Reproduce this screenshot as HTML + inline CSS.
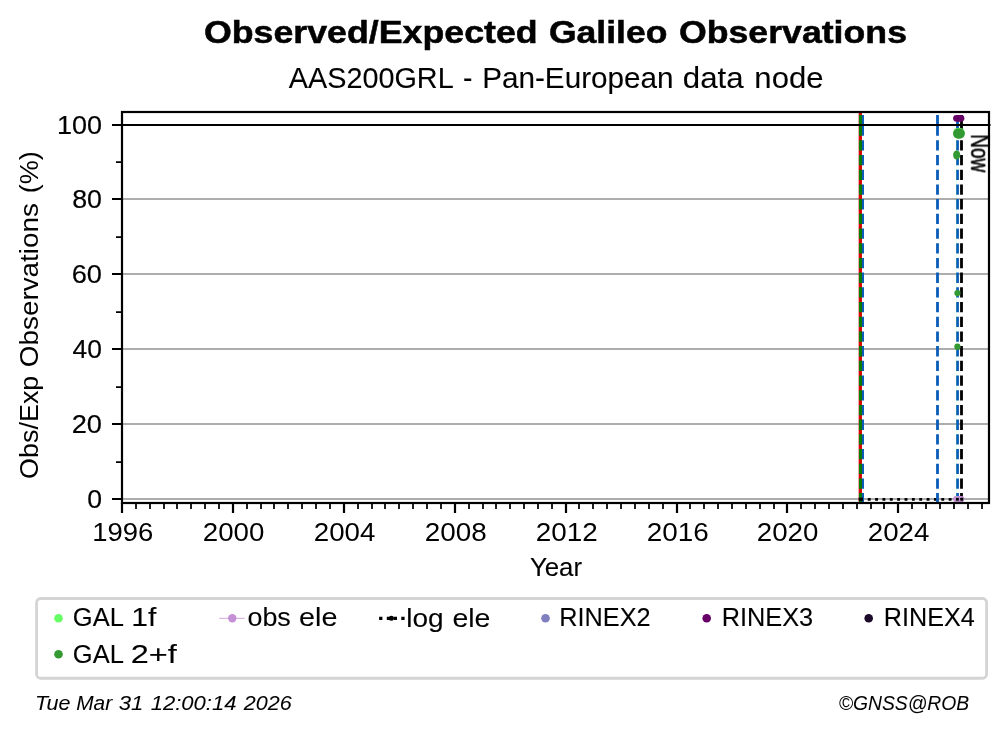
<!DOCTYPE html>
<html lang="en"><head><meta charset="utf-8"><title>Observed/Expected Galileo Observations</title>
<style>html,body{margin:0;padding:0;background:#fff;overflow:hidden}svg{display:block;font-family:"Liberation Sans", sans-serif}text{white-space:pre;vector-effect:non-scaling-stroke}</style></head><body>
<svg width="1008" height="734" viewBox="0 0 1008 734">
<rect width="1008" height="734" fill="#fff"/>
<g stroke="#adadad" stroke-width="2.2" fill="none">
<line x1="122" x2="989" y1="499" y2="499"/>
<line x1="122" x2="989" y1="424" y2="424"/>
<line x1="122" x2="989" y1="349" y2="349"/>
<line x1="122" x2="989" y1="274" y2="274"/>
<line x1="122" x2="989" y1="199" y2="199"/>
<line x1="122" x2="989" y1="125" y2="125"/>
</g>
<path d="M867.75 499.3H870.65 M875.11 499.3H878.01 M882.46 499.3H885.36 M889.82 499.3H892.72 M897.17 499.3H900.07 M904.53 499.3H907.43 M911.88 499.3H914.78 M919.24 499.3H922.14 M926.59 499.3H929.49 M933.95 499.3H936.85 M941.3 499.3H944.2 M948.66 499.3H951.56" stroke="#000" stroke-width="2.7" fill="none"/>
<path d="M862.6 115V135.7 M862.6 140.3V150.6 M862.6 155V165.3 M862.6 169.7V180 M862.6 184.4V194.7 M862.6 199.1V209.4 M862.6 213.8V224.1 M862.6 228.5V238.8 M862.6 243.2V253.5 M862.6 257.9V268.2 M862.6 272.6V282.9 M862.6 287.3V297.6 M862.6 302V312.3 M862.6 316.7V327 M862.6 331.4V341.7 M862.6 346.1V356.4 M862.6 360.8V371.1 M862.6 375.5V385.8 M862.6 390.2V400.5 M862.6 404.9V415.2 M862.6 419.6V429.9 M862.6 434.3V444.6 M862.6 449V459.3 M862.6 463.7V474 M862.6 478.4V488.7 M862.6 493.1V502" stroke="#095cb8" stroke-width="2.8" fill="none"/>
<line x1="860.3" x2="860.3" y1="113" y2="502" stroke="#d80000" stroke-width="3.3"/>
<path d="M860.45 115V135.7 M860.45 140.3V150.6 M860.45 155V165.3 M860.45 169.7V180 M860.45 184.4V194.7 M860.45 199.1V209.4 M860.45 213.8V224.1 M860.45 228.5V238.8 M860.45 243.2V253.5 M860.45 257.9V268.2 M860.45 272.6V282.9 M860.45 287.3V297.6 M860.45 302V312.3 M860.45 316.7V327 M860.45 331.4V341.7 M860.45 346.1V356.4 M860.45 360.8V371.1 M860.45 375.5V385.8 M860.45 390.2V400.5 M860.45 404.9V415.2 M860.45 419.6V429.9 M860.45 434.3V444.6 M860.45 449V459.3 M860.45 463.7V474 M860.45 478.4V488.7 M860.45 493.1V502" stroke="#008000" stroke-width="2.9" fill="none"/>
<path d="M937.5 115V135.7 M937.5 140.3V150.6 M937.5 155V165.3 M937.5 169.7V180 M937.5 184.4V194.7 M937.5 199.1V209.4 M937.5 213.8V224.1 M937.5 228.5V238.8 M937.5 243.2V253.5 M937.5 257.9V268.2 M937.5 272.6V282.9 M937.5 287.3V297.6 M937.5 302V312.3 M937.5 316.7V327 M937.5 331.4V341.7 M937.5 346.1V356.4 M937.5 360.8V371.1 M937.5 375.5V385.8 M937.5 390.2V400.5 M937.5 404.9V415.2 M937.5 419.6V429.9 M937.5 434.3V444.6 M937.5 449V459.3 M937.5 463.7V474 M937.5 478.4V488.7 M937.5 493.1V502" stroke="#095cb8" stroke-width="2.8" fill="none"/>
<path d="M957.5 115V135.7 M957.5 140.3V150.6 M957.5 155V165.3 M957.5 169.7V180 M957.5 184.4V194.7 M957.5 199.1V209.4 M957.5 213.8V224.1 M957.5 228.5V238.8 M957.5 243.2V253.5 M957.5 257.9V268.2 M957.5 272.6V282.9 M957.5 287.3V297.6 M957.5 302V312.3 M957.5 316.7V327 M957.5 331.4V341.7 M957.5 346.1V356.4 M957.5 360.8V371.1 M957.5 375.5V385.8 M957.5 390.2V400.5 M957.5 404.9V415.2 M957.5 419.6V429.9 M957.5 434.3V444.6 M957.5 449V459.3 M957.5 463.7V474 M957.5 478.4V488.7 M957.5 493.1V502" stroke="#095cb8" stroke-width="2.8" fill="none"/>
<path d="M961.5 115V135.7 M961.5 140.3V150.6 M961.5 155V165.3 M961.5 169.7V180 M961.5 184.4V194.7 M961.5 199.1V209.4 M961.5 213.8V224.1 M961.5 228.5V238.8 M961.5 243.2V253.5 M961.5 257.9V268.2 M961.5 272.6V282.9 M961.5 287.3V297.6 M961.5 302V312.3 M961.5 316.7V327 M961.5 331.4V341.7 M961.5 346.1V356.4 M961.5 360.8V371.1 M961.5 375.5V385.8 M961.5 390.2V400.5 M961.5 404.9V415.2 M961.5 419.6V429.9 M961.5 434.3V444.6 M961.5 449V459.3 M961.5 463.7V474 M961.5 478.4V488.7 M961.5 493.1V502" stroke="#000" stroke-width="2.8" fill="none"/>
<rect x="858.7" y="497.7" width="4.3" height="3.2" fill="#000"/>
<line x1="122" x2="990.5" y1="125" y2="125" stroke="#000" stroke-width="2.1"/>
<rect x="953.1" y="496.0" width="11.3" height="6.0" rx="3" fill="#c48fd4"/>
<rect x="956.0" y="497.95" width="2.8" height="2.7" fill="#000"/>
<rect x="960.2" y="497.8" width="3.1" height="3.0" rx="0.8" fill="#000"/>
<line x1="956.3" x2="956.3" y1="130" y2="498" stroke="#66ff66" stroke-width="0.6" opacity="0.3"/>
<rect x="953.3" y="127.9" width="11.4" height="9" rx="4.5" fill="#66ff66"/>
<g fill="#339a33">
<rect x="953.0" y="128.5" width="11.9" height="10.2" rx="5.1"/>
<ellipse cx="956.7" cy="155" rx="3.6" ry="4.6"/>
<circle cx="957.4" cy="293.1" r="3.1"/>
<circle cx="957.4" cy="346.7" r="3.1"/>
</g>
<rect x="953.1" y="114.9" width="11.3" height="6.9" rx="3.45" fill="#660066"/>
<g stroke="#000" fill="none">
<path d="M122 499H112 M122 424H112 M122 349H112 M122 274H112 M122 199H112 M122 125H112 M122 503V513 M233 503V513 M344 503V513 M455 503V513 M566 503V513 M677 503V513 M787 503V513 M898 503V513" stroke-width="2.2"/>
<path d="M122 462H116 M122 387H116 M122 312H116 M122 237H116 M122 162H116 M136 503V509 M150 503V509 M164 503V509 M177 503V509 M191 503V509 M205 503V509 M219 503V509 M247 503V509 M261 503V509 M274 503V509 M288 503V509 M302 503V509 M316 503V509 M330 503V509 M358 503V509 M372 503V509 M385 503V509 M399 503V509 M413 503V509 M427 503V509 M441 503V509 M469 503V509 M483 503V509 M496 503V509 M510 503V509 M524 503V509 M538 503V509 M552 503V509 M579 503V509 M593 503V509 M607 503V509 M621 503V509 M635 503V509 M649 503V509 M663 503V509 M690 503V509 M704 503V509 M718 503V509 M732 503V509 M746 503V509 M760 503V509 M774 503V509 M801 503V509 M815 503V509 M829 503V509 M843 503V509 M857 503V509 M871 503V509 M884 503V509 M912 503V509 M926 503V509 M940 503V509 M954 503V509 M968 503V509 M982 503V509" stroke-width="1.75"/>
<rect x="122" y="112" width="867" height="391" stroke-width="2.2"/>
</g>
<rect x="36.6" y="598.5" width="950" height="79.75" rx="4" fill="#fff" stroke="#d4d4d4" stroke-width="2.8"/>
<circle cx="58.5" cy="618.3" r="4.3" fill="#66ff66"/>
<circle cx="58.5" cy="654.2" r="4.3" fill="#339a33"/>
<line x1="219.2" x2="244.7" y1="618.3" y2="618.3" stroke="#c48fd4" stroke-width="0.8"/>
<circle cx="232.3" cy="618.3" r="4.2" fill="#c48fd4"/>
<path d="M379.1 618.3H382.4 M386.8 618.3H390.1 M393.7 618.3H397 M401.3 618.3H404.6" stroke="#000" stroke-width="3.2" fill="none"/>
<circle cx="391.4" cy="618.3" r="2.5" fill="#000"/>
<circle cx="545.5" cy="618.3" r="4.3" fill="#807fbf"/>
<circle cx="706.7" cy="618.3" r="4.3" fill="#660066"/>
<circle cx="868.7" cy="618.3" r="4.3" fill="#1d0a2b"/>
<g fill="#000" opacity="0.999">
<text transform="translate(203.88 42.8) scale(1.1175 1)" font-size="32" font-weight="bold" stroke="#000" stroke-width="0.55">Observed/Expected</text>
<text transform="translate(548.89 42.8) scale(1.1113 1)" font-size="32" font-weight="bold" stroke="#000" stroke-width="0.55">Galileo</text>
<text transform="translate(678.88 42.8) scale(1.1156 1)" font-size="32" font-weight="bold" stroke="#000" stroke-width="0.55">Observations</text>
<text transform="translate(288.8 87.6) scale(0.9831 1)" font-size="29.3" stroke="#000" stroke-width="0.1">AAS200GRL</text>
<text transform="translate(462.92 87.6) scale(0.9637 1)" font-size="29.3" stroke="#000" stroke-width="0.1">-</text>
<text transform="translate(482.18 87.6) scale(1.0134 1)" font-size="29.3" stroke="#000" stroke-width="0.1">Pan-European</text>
<text transform="translate(682.82 87.6) scale(1.0658 1)" font-size="29.3" stroke="#000" stroke-width="0.1">data</text>
<text transform="translate(754.36 87.6) scale(1.0617 1)" font-size="29.3" stroke="#000" stroke-width="0.1">node</text>
<text transform="translate(87.17 507.9) scale(1.0231 1)" font-size="26" stroke="#000" stroke-width="0.2">0</text>
<text transform="translate(71.73 432.9) scale(1.0461 1)" font-size="26" stroke="#000" stroke-width="0.2">20</text>
<text transform="translate(72.59 357.9) scale(1.0156 1)" font-size="26" stroke="#000" stroke-width="0.2">40</text>
<text transform="translate(71.73 282.9) scale(1.0461 1)" font-size="26" stroke="#000" stroke-width="0.2">60</text>
<text transform="translate(72.16 207.9) scale(1.0306 1)" font-size="26" stroke="#000" stroke-width="0.2">80</text>
<text transform="translate(56.91 133.9) scale(1.0387 1)" font-size="26" stroke="#000" stroke-width="0.2">100</text>
<text transform="translate(92.13 540.9) scale(1.0569 1)" font-size="26">1996</text>
<text transform="translate(202.8 540.9) scale(1.0648 1)" font-size="26">2000</text>
<text transform="translate(313.8 540.9) scale(1.0648 1)" font-size="26">2004</text>
<text transform="translate(424.79 540.9) scale(1.0726 1)" font-size="26">2008</text>
<text transform="translate(535.79 540.9) scale(1.0726 1)" font-size="26">2012</text>
<text transform="translate(646.79 540.9) scale(1.0726 1)" font-size="26">2016</text>
<text transform="translate(756.8 540.9) scale(1.0648 1)" font-size="26">2020</text>
<text transform="translate(867.8 540.9) scale(1.0648 1)" font-size="26">2024</text>
<text transform="translate(529.9 575.6) scale(0.9942 1)" font-size="26" stroke="#000" stroke-width="0.1">Year</text>
<text transform="translate(37.9 478.96) rotate(-90) scale(1.0366 1)" font-size="26">Obs/Exp</text>
<text transform="translate(37.9 367.21) rotate(-90) scale(1.0724 1)" font-size="26">Observations</text>
<text transform="translate(37.9 193.27) rotate(-90) scale(1.0430 1)" font-size="26">(%)</text>
<text transform="translate(971.2 134.21) rotate(90) scale(0.7336 1)" font-size="26" stroke="#000" stroke-width="0.55">Now</text>
<text transform="translate(72.8 625.8) scale(0.9809 1)" font-size="26" stroke="#000" stroke-width="0.1">GAL</text>
<text transform="translate(131.32 625.8) scale(1.1565 1)" font-size="26" stroke="#000" stroke-width="0.1">1f</text>
<text transform="translate(72.8 662.5) scale(0.9809 1)" font-size="26" stroke="#000" stroke-width="0.1">GAL</text>
<text transform="translate(130.78 662.5) scale(1.2508 1)" font-size="26" stroke="#000" stroke-width="0.1">2+f</text>
<text transform="translate(247.46 625.7) scale(1.0349 1)" font-size="26" stroke="#000" stroke-width="0.1">obs</text>
<text transform="translate(299.1 625.7) scale(1.1057 1)" font-size="26" stroke="#000" stroke-width="0.1">ele</text>
<text transform="translate(406.15 626.7) scale(1.0787 1)" font-size="26" stroke="#000" stroke-width="0.1">log</text>
<text transform="translate(452.41 626.7) scale(1.0935 1)" font-size="26" stroke="#000" stroke-width="0.1">ele</text>
<text transform="translate(559.32 625.8) scale(0.9732 1)" font-size="26" stroke="#000" stroke-width="0.1">RINEX2</text>
<text transform="translate(721.72 625.8) scale(0.9743 1)" font-size="26" stroke="#000" stroke-width="0.1">RINEX3</text>
<text transform="translate(883.83 625.8) scale(0.9689 1)" font-size="26" stroke="#000" stroke-width="0.1">RINEX4</text>
<text transform="translate(34.92 709.8) scale(1.0508 1)" font-size="20.5" font-style="italic" stroke="#000" stroke-width="0.05">Tue</text>
<text transform="translate(76.17 709.8) scale(1.0183 1)" font-size="20.5" font-style="italic" stroke="#000" stroke-width="0.05">Mar</text>
<text transform="translate(118.65 709.8) scale(1.0804 1)" font-size="20.5" font-style="italic" stroke="#000" stroke-width="0.05">31</text>
<text transform="translate(150.66 709.8) scale(1.0764 1)" font-size="20.5" font-style="italic" stroke="#000" stroke-width="0.05">12:00:14</text>
<text transform="translate(243.84 709.8) scale(1.0509 1)" font-size="20.5" font-style="italic" stroke="#000" stroke-width="0.05">2026</text>
<text transform="translate(838.7 709.8) scale(0.9428 1)" font-size="20.5" font-style="italic" stroke="#000" stroke-width="0.05">©GNSS@ROB</text>
</g>
</svg></body></html>
